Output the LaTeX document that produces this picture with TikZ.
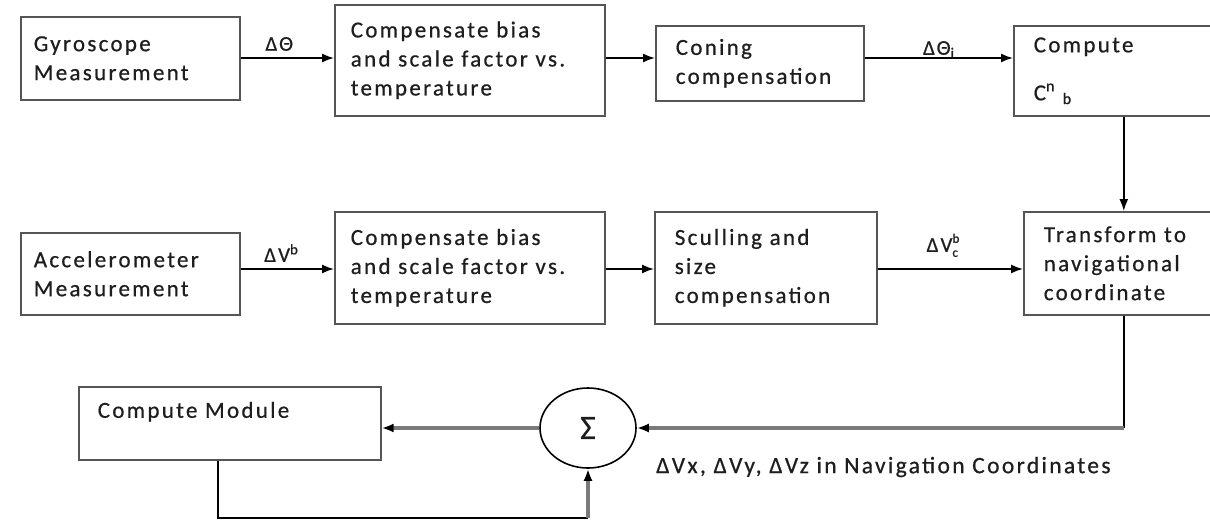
\documentclass[tikz,border=0pt]{standalone}
\usepackage{fontspec}
\setmainfont{Carlito}[LetterSpace=10,FakeBold=0.6]
\usetikzlibrary{arrows.meta,shapes.geometric}
\definecolor{boxgray}{HTML}{555555}
\definecolor{txt}{HTML}{1E1E1E}
\definecolor{fatgray}{HTML}{7A7A7A}
\hyphenpenalty=10000
\exhyphenpenalty=10000
\newcommand\smallf{\fontsize{13}{13}\selectfont}
\begin{document}
\begin{tikzpicture}[x=1pt,y=-1pt,
  box/.style={draw=boxgray,line width=1.6pt,anchor=north west,align=left,
    font=\fontsize{23}{29}\selectfont,text=txt,inner ysep=0pt},
  tip/.style={-{Latex[length=12pt,width=9pt,color=black]}},
  arr/.style={tip,line width=1.6pt,draw=black},
  thin/.style={line width=1.4pt,draw=black},
  fat/.style={tip,line width=4pt,draw=fatgray},
  lab/.style={font=\fontsize{21}{24}\selectfont,text=txt},
  biglab/.style={font=\fontsize{23.5}{29}\selectfont,text=txt}
]
\fill[white] (0,0) rectangle (1210,522);
\useasboundingbox (0,0) rectangle (1210,522);

% row 1
\node[box,minimum width=219pt,minimum height=83pt,inner xsep=13pt,text width=193pt] (gyro) at (20,16) {Gyroscope\\Measurement};
\node[box,minimum width=270pt,minimum height=111pt,inner xsep=16pt,text width=238pt] (comp1) at (334,4) {Compensate bias\\and scale factor vs.\\temperature};
\node[box,minimum width=208pt,minimum height=75pt,inner xsep=20pt,text width=168pt] (coning) at (655,25) {Coning\\compensation};
\node[box,minimum width=210pt,minimum height=90pt,inner xsep=20pt,text width=170pt] (compute) at (1013,25) {Compute\\[19pt]C\textsuperscript{n}~\textsubscript{b}};

% row 2
\node[box,minimum width=219pt,minimum height=82pt,inner xsep=13pt,text width=193pt] (accel) at (20,232) {Accelerometer\\Measurement};
\node[box,minimum width=270pt,minimum height=112pt,inner xsep=16pt,text width=238pt] (comp2) at (334,211) {Compensate bias\\and scale factor vs.\\temperature};
\node[box,minimum width=222pt,minimum height=112pt,inner xsep=20pt,text width=182pt] (scull) at (654,211) {Sculling and\\size\\compensation};
\node[box,minimum width=200pt,minimum height=103pt,inner xsep=20pt,text width=160pt] (trans) at (1023,211) {Transform to\\navigational\\coordinate};

% row 3
\node[box,minimum width=302pt,inner xsep=19pt,text width=264pt,text height=31pt,text depth=42pt] (cm) at (78,386) {Compute Module};
\node[draw=black,line width=1.6pt,ellipse,minimum width=96pt,minimum height=80pt,inner sep=0pt,
  font=\fontsize{34}{36}\selectfont,text=txt] (sig) at (588,428) {Σ};
\node[biglab,anchor=west,inner sep=0pt] (nav) at (656,467) {ΔVx, ΔVy, ΔVz in Navigation Coordinates};

\coordinate (r1) at (0,58);
\coordinate (r2) at (0,269);

\draw[arr] (gyro.east |- r1) -- node[lab,above=3pt,xshift=-8pt] (l1) {ΔΘ} (comp1.west |- r1);
\draw[arr] (comp1.east |- r1) -- (coning.west |- r1);
\draw[arr] (coning.east |- r1) -- node[lab,above=-4pt] (l2) {ΔΘ\textsubscript{i}} (compute.west |- r1);
\draw[arr] (compute.south -| trans.north) -- (trans.north);

\draw[arr] (accel.east |- r2) -- node[lab,above=3pt,xshift=-6pt] (l3) {ΔV\textsuperscript{b}} (comp2.west |- r2);
\draw[arr] (comp2.east |- r2) -- (scull.west |- r2);
\draw[arr] (scull.east |- r2) -- node[lab,above=8pt,xshift=-8pt] (l4) {ΔV\rlap{\raisebox{9pt}{\smallf b}}\raisebox{-5pt}{\smallf c}} (trans.west |- r2);

\coordinate (tc) at (trans.south |- sig.east);
\draw[thin] (trans.south) -- (tc);
\draw[fat] (tc) -- (sig.east);
\draw[fat] (sig.west) -- (cm.east |- sig.west);

\coordinate (b1) at (218,518);
\coordinate (b2) at (sig.south |- b1);
\draw[thin] (cm.south -| b1) -- (b1) -- (b2);
\draw[fat] (b2) -- (sig.south);
\end{tikzpicture}
\end{document}
